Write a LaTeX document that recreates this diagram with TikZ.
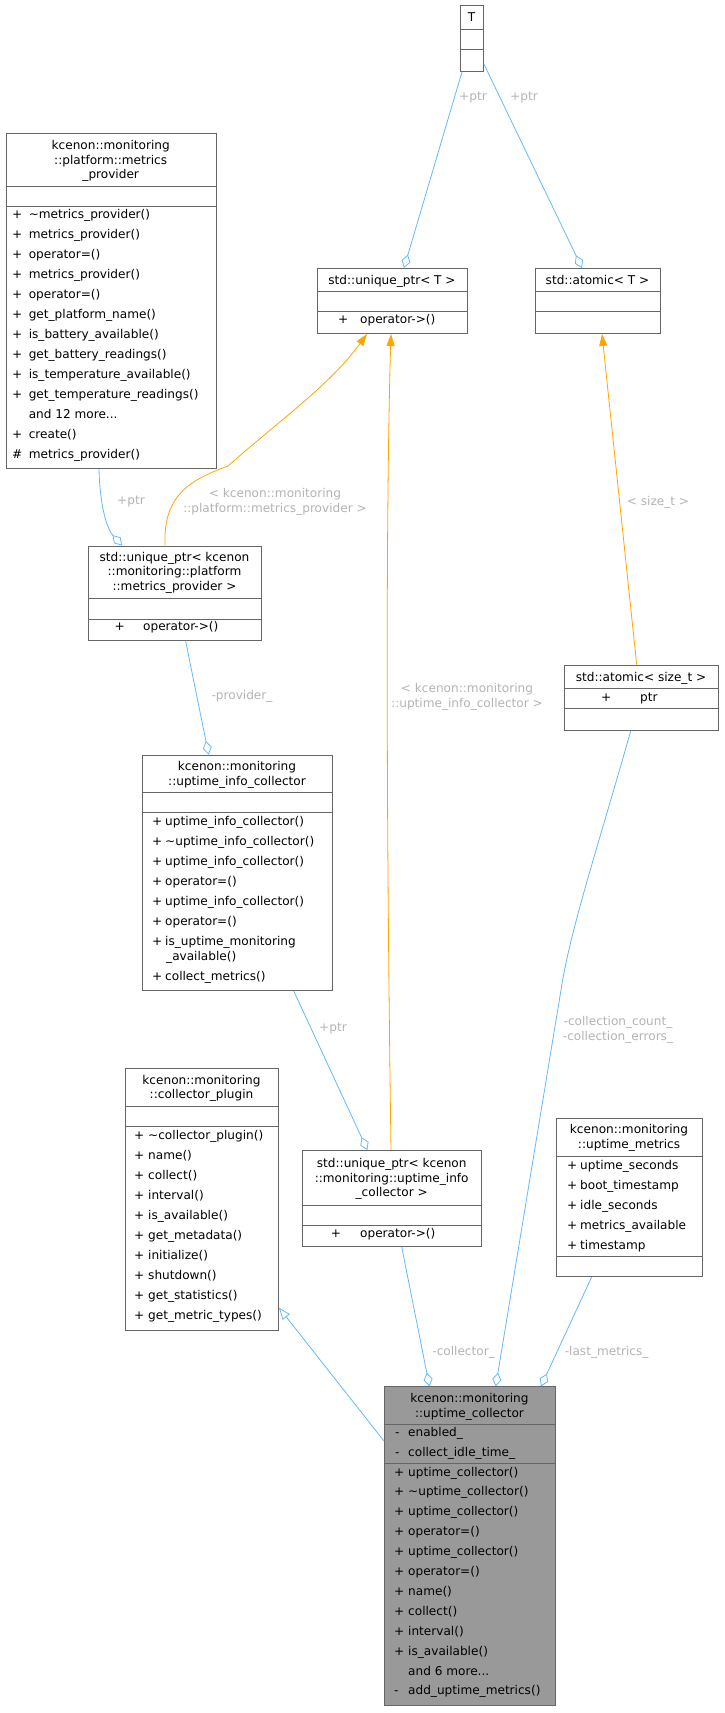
\documentclass[tikz,border=0pt]{standalone}
\usepackage{fontspec}
\setmainfont{DejaVu Sans}
\usetikzlibrary{arrows.meta,calc}
\definecolor{edge}{HTML}{63B8FF}
\definecolor{tmpl}{HTML}{FFA500}
\definecolor{lbl}{HTML}{B3B3B3}
\definecolor{bord}{HTML}{666666}
\newcommand\andmore[1]{and #1 more...}
\begin{document}
\begin{tikzpicture}[x=1pt,y=-1pt,
  box/.style={draw=bord,fill=white,line width=0.9pt,inner sep=0,anchor=north west},
  div/.style={draw=bord,line width=0.9pt},
  txt/.style={inner sep=0,anchor=base west,font=\fontsize{12.1}{15}\selectfont},
  ttl/.style={inner sep=0,anchor=base,font=\fontsize{12.1}{15}\selectfont},
  lab/.style={inner sep=0,align=center,text=lbl,font=\fontsize{12.1}{14.5}\selectfont},
  agg/.style={draw=edge,line width=0.8pt,-{Diamond[open,length=14pt,width=9pt]}},
  tpl/.style={draw=tmpl,line width=0.8pt,-{Triangle[length=12pt,width=8pt]},tmpl},
  inh/.style={draw=edge,line width=0.8pt,-{Triangle[open,length=12pt,width=9pt]}}]
\useasboundingbox (0,0) rectangle (724,1713);
\newcommand\cls[6][white]{\node[box,fill=#1,minimum width=#5,minimum height=#6] (#2) at (#3,#4) {};}
\newcommand\dv[2]{\draw[div] (#1.west |- 0,#2) -- (#1.east |- 0,#2);}
\newcommand\ttlx[3]{\node[ttl] at (#1,#2) {#3};}
\newcommand\rows[5]{\foreach \s/\t [count=\i from 0] in {#5}{\node[txt] at (#1,{#3+\i*#4}) {\s};\node[txt] at (#2,{#3+\i*#4}) {\t};}}
% boxes
\cls{T}{460}{5}{23}{66} \dv{T}{29} \dv{T}{49}
\ttlx{471.5}{21}{T}
\cls{mp}{5.5}{133}{210.5}{335} \dv{mp}{186} \dv{mp}{206}
\ttlx{110.7}{149}{kcenon::monitoring}\ttlx{110.7}{164}{::platform::metrics}\ttlx{110.7}{178}{\_provider}
\rows{12}{28.6}{218.5}{20}{+/\textasciitilde metrics\_provider(),+/metrics\_provider(),+/operator=(),+/metrics\_provider(),+/operator=(),+/get\_platform\_name(),+/is\_battery\_available(),+/get\_battery\_readings(),+/is\_temperature\_available(),+/get\_temperature\_readings(), /\andmore{12},+/create(),\#/metrics\_provider()}
\cls{upT}{317}{268}{150}{65} \dv{upT}{291} \dv{upT}{311}
\ttlx{392}{284}{std::unique\_ptr< T >}
\node[txt] at (338,323) {+}; \node[txt] at (360,323) {operator->()};
\cls{atT}{535}{268}{125}{65} \dv{atT}{291} \dv{atT}{311}
\ttlx{597.5}{284}{std::atomic< T >}
\cls{upmp}{88}{545.5}{173}{94.5} \dv{upmp}{598} \dv{upmp}{619}
\ttlx{174.5}{561}{std::unique\_ptr< kcenon}\ttlx{174.5}{575.5}{::monitoring::platform}\ttlx{174.5}{590}{::metrics\_provider >}
\node[txt] at (114.5,630.5) {+}; \node[txt] at (143,630.5) {operator->()};
\cls{ats}{563.7}{664.7}{154.7}{65.3} \dv{ats}{688} \dv{ats}{708.5}
\ttlx{641}{681}{std::atomic< size\_t >}
\node[txt] at (601,701) {+}; \node[txt] at (640,701) {ptr};
\cls{uic}{141.7}{754.7}{190.7}{235.3} \dv{uic}{792} \dv{uic}{812}
\ttlx{237}{770}{kcenon::monitoring}\ttlx{237}{785}{::uptime\_info\_collector}
\rows{152}{165}{825}{20.1}{+/uptime\_info\_collector(),+/\textasciitilde uptime\_info\_collector(),+/uptime\_info\_collector(),+/operator=(),+/uptime\_info\_collector(),+/operator=(),+/is\_uptime\_monitoring}
\node[txt] at (166,960.5) {\_available()};
\node[txt] at (152,980.6) {+}; \node[txt] at (165,980.6) {collect\_metrics()};
\cls{cp}{124.7}{1067.7}{153.3}{262} \dv{cp}{1106} \dv{cp}{1126}
\ttlx{201.5}{1084}{kcenon::monitoring}\ttlx{201.5}{1098.6}{::collector\_plugin}
\rows{134}{148}{1139}{20.1}{+/\textasciitilde collector\_plugin(),+/name(),+/collect(),+/interval(),+/is\_available(),+/get\_metadata(),+/initialize(),+/shutdown(),+/get\_statistics(),+/get\_metric\_types()}
\cls{upu}{302.4}{1150}{178.6}{96} \dv{upu}{1205} \dv{upu}{1225}
\ttlx{391.7}{1167}{std::unique\_ptr< kcenon}\ttlx{391.7}{1182}{::monitoring::uptime\_info}\ttlx{391.7}{1196.5}{\_collector >}
\node[txt] at (330.6,1237) {+}; \node[txt] at (360,1237) {operator->()};
\cls{um}{556}{1118}{146}{158} \dv{um}{1156} \dv{um}{1256.5}
\ttlx{629}{1133}{kcenon::monitoring}\ttlx{629}{1148}{::uptime\_metrics}
\rows{567}{580}{1169}{20.1}{+/uptime\_seconds,+/boot\_timestamp,+/idle\_seconds,+/metrics\_available,+/timestamp}
\cls[black!40]{uc}{384}{1386.4}{171}{318.2} \dv{uc}{1424} \dv{uc}{1463.6}
\ttlx{469.5}{1402}{kcenon::monitoring}\ttlx{469.5}{1417}{::uptime\_collector}
\rows{395}{408}{1436}{20}{-/enabled\_,-/collect\_idle\_time\_}
\rows{394}{408}{1476}{19.9}{+/uptime\_collector(),+/\textasciitilde uptime\_collector(),+/uptime\_collector(),+/operator=(),+/uptime\_collector(),+/operator=(),+/name(),+/collect(),+/interval(),+/is\_available(), /\andmore{6},-/add\_uptime\_metrics()}
% edges
\draw[agg] ($(T.south west)+(2,0)$) -- ($(upT.north west)+(87,0)$);
\draw[agg] ($(T.north east)+(0,59)$) -- ($(atT.north west)+(47,0)$);
\draw[agg] ($(mp.south west)+(93.5,0)$) .. controls (100,510) and (108,530) .. ($(upmp.north west)+(34,0)$);
\draw[tpl] ($(upmp.north west)+(77,0)$) .. controls (163,495) and (190,480) .. (228,466) .. controls (280,420) and (330,385) .. ($(upT.south west)+(50,0)$);
\draw[tpl] ($(upu.north west)+(88.6,0)$) .. controls (386,800) and (386,500) .. ($(upT.south west)+(74,0)$);
\draw[tpl] ($(ats.north west)+(73,0)$) -- ($(atT.south west)+(67,0)$);
\draw[agg] ($(upmp.south west)+(97.6,0)$) -- ($(uic.north west)+(67,0)$);
\draw[agg] ($(uic.south west)+(152,0)$) -- ($(upu.north west)+(65,0)$);
\draw[agg] ($(ats.south west)+(67,0)$) .. controls (600,840) and (570,930) .. (561,990) -- ($(uc.north west)+(111.7,0)$);
\draw[agg] ($(upu.south west)+(99.3,0)$) -- ($(uc.north west)+(45.5,0)$);
\draw[agg] ($(um.south west)+(35.7,0)$) -- ($(uc.north west)+(157,0)$);
\draw[inh] ($(uc.north west)+(0,54.6)$) -- ($(cp.south east)+(0,-23)$);
% labels
\node[lab] (l1) at (473,98) {+ptr};
\node[lab] (l2) at (524,98) {+ptr};
\node[lab] (l3) at (131,502) {+ptr};
\node[lab] (l4) at (275,502) {< kcenon::monitoring\\::platform::metrics\_provider >};
\node[lab] (l5) at (658,502) {< size\_t >};
\node[lab] (l6) at (242,696) {-provider\_};
\node[lab] (l7) at (467,697) {< kcenon::monitoring\\::uptime\_info\_collector >};
\node[lab] (l8) at (333,1028) {+ptr};
\node[lab] (l9) at (618,1030) {-collection\_count\_\\-collection\_errors\_};
\node[lab] (l10) at (463.6,1352) {-collector\_};
\node[lab] (l11) at (606.6,1352) {-last\_metrics\_};
\end{tikzpicture}
\end{document}
